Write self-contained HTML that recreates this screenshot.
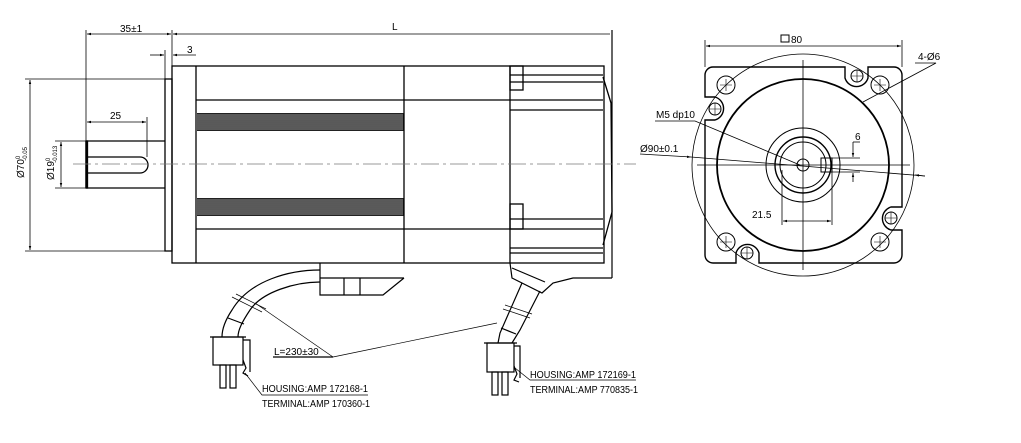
<!DOCTYPE html>
<html><head><meta charset="utf-8"><style>
html,body{margin:0;padding:0;background:#fff;}
svg{display:block;}
text{font-family:"Liberation Sans",sans-serif;font-size:10px;fill:#000;}
</style></head><body>
<svg width="1021" height="443" viewBox="0 0 1021 443" xmlns="http://www.w3.org/2000/svg">
<defs>
<marker id="a" viewBox="0 0 10 10" refX="10" refY="5" markerWidth="7" markerHeight="5" orient="auto-start-reverse"><path d="M0,2 L10,5 L0,8 z" fill="#000"/></marker>
</defs>
<g stroke="#000" fill="none" stroke-width="0.8">
<line x1="86" y1="30" x2="86" y2="188"/>
<line x1="172" y1="30" x2="172" y2="66"/>
<line x1="612" y1="30" x2="612" y2="278" stroke-width="1.2"/>
<line x1="87" y1="34" x2="171" y2="34" marker-start="url(#a)" marker-end="url(#a)"/>
<line x1="173" y1="34" x2="610" y2="34" marker-start="url(#a)"/>
<line x1="165" y1="50" x2="165" y2="79"/>
<line x1="150" y1="55" x2="164" y2="55" marker-end="url(#a)"/>
<line x1="196" y1="55" x2="173" y2="55" marker-end="url(#a)"/>
<line x1="25" y1="79" x2="165" y2="79"/>
<line x1="25" y1="251" x2="165" y2="251"/>
<line x1="30" y1="80" x2="30" y2="250" marker-start="url(#a)" marker-end="url(#a)"/>
<line x1="55" y1="141" x2="86" y2="141"/>
<line x1="55" y1="188" x2="86" y2="188"/>
<line x1="61" y1="142" x2="61" y2="187" marker-start="url(#a)" marker-end="url(#a)"/>
<line x1="147" y1="117" x2="147" y2="157"/>
<line x1="87" y1="122" x2="146" y2="122" marker-start="url(#a)" marker-end="url(#a)"/>
</g>
<rect x="197" y="113" width="207" height="18" fill="#222"/>
<rect x="197" y="198" width="207" height="18" fill="#222"/>
<g stroke="#fff" stroke-width="0.5">
<line x1="197" y1="115" x2="403" y2="115"/><line x1="197" y1="117" x2="403" y2="117"/><line x1="197" y1="119" x2="403" y2="119"/><line x1="197" y1="121" x2="403" y2="121"/><line x1="197" y1="123" x2="403" y2="123"/><line x1="197" y1="125" x2="403" y2="125"/><line x1="197" y1="127" x2="403" y2="127"/><line x1="197" y1="129" x2="403" y2="129"/>
<line x1="197" y1="200" x2="403" y2="200"/><line x1="197" y1="202" x2="403" y2="202"/><line x1="197" y1="204" x2="403" y2="204"/><line x1="197" y1="206" x2="403" y2="206"/><line x1="197" y1="208" x2="403" y2="208"/><line x1="197" y1="210" x2="403" y2="210"/><line x1="197" y1="212" x2="403" y2="212"/><line x1="197" y1="214" x2="403" y2="214"/>
</g>
<g stroke="#000" fill="none" stroke-width="1.3">
<path d="M86,141 H165 M86,188 H165 M86,141 V188"/>
<path d="M88,157 H140 A8,8 0 0 1 140,173 H88"/>
<rect x="86" y="141" width="1.5" height="47" fill="#000"/>
<rect x="165" y="79" width="7" height="172"/>
<rect x="172" y="66" width="432" height="197"/>
<line x1="196" y1="66" x2="196" y2="263"/>
<line x1="404" y1="66" x2="404" y2="263"/>
<line x1="510" y1="66" x2="510" y2="263"/>
<line x1="196" y1="100" x2="603" y2="100"/>
<line x1="196" y1="229" x2="603" y2="229"/>
<line x1="510" y1="110" x2="603" y2="110"/>
<line x1="510" y1="219" x2="603" y2="219"/>
<line x1="510" y1="75" x2="603" y2="75"/>
<line x1="510" y1="82" x2="603" y2="82"/>
<line x1="510" y1="248" x2="603" y2="248"/>
<line x1="510" y1="253" x2="603" y2="253"/>
<rect x="510" y="66" width="13" height="24"/>
<rect x="510" y="204" width="13" height="25"/>
<path d="M603,77 L611,103 L612,212 L603,245"/>
</g>
<line x1="73" y1="164" x2="636" y2="164" stroke="#777" stroke-width="0.8" stroke-dasharray="18,4,3,4"/>
<g stroke="#000" fill="none" stroke-width="1.2">
<path d="M320,263 V295 H383 L404,278 M320,278 H404 M344,278 V295 M360,278 V295"/>
<path d="M320,270 C290,270 250,280 232,310 C224,322 222,330 222,337"/>
<path d="M320,282 C295,282 262,292 250,310 C242,322 238,330 238,337"/>
<line x1="228" y1="318" x2="244" y2="324"/>
<rect x="213" y="337" width="30" height="28"/>
<path d="M210,337 H246"/>
<rect x="220" y="365" width="6" height="23"/><rect x="230" y="365" width="6" height="23"/>
<path d="M243,340 H250 V372 M243,360 L246,368 L243,373 L248,376"/>
<path d="M510,263 L512,278 L542,293 L553,283 L573,278 H612"/>
<line x1="512" y1="268" x2="545" y2="282"/>
<path d="M522,283 L500,333 L498,343"/>
<path d="M540,291 L520,330 L512,343"/>
<line x1="501" y1="328" x2="516" y2="334"/>
<rect x="487" y="343" width="27" height="29"/>
<path d="M484,343 H517"/>
<rect x="492" y="372" width="6" height="23"/><rect x="502" y="372" width="6" height="23"/>
<path d="M514,346 H520 V378 M514,366 L517,374 L514,380 L519,382"/>
</g>
<g stroke="#000" fill="none" stroke-width="0.7">
<line x1="232" y1="297" x2="262" y2="312"/><line x1="236" y1="294" x2="266" y2="309"/>
<line x1="503" y1="309" x2="530" y2="318"/><line x1="505" y1="305" x2="532" y2="314"/>
<line x1="273" y1="357" x2="333" y2="357" stroke-width="1.2"/>
<line x1="333" y1="357" x2="255" y2="303"/>
<line x1="333" y1="357" x2="497" y2="323"/>
<path d="M245,373 L262,395 H368"/>
<path d="M515,368 L530,380 H636"/>
</g>
<text x="120" y="32">35±1</text>
<text x="392" y="30" font-family="Liberation Serif" font-size="14">L</text>
<text x="187" y="53">3</text>
<text x="110" y="119">25</text>
<text transform="translate(24,178) rotate(-90)" font-size="9">Ø70<tspan dy="-4" font-size="6">0</tspan><tspan dx="-5" dy="7" font-size="6">-0.05</tspan></text>
<text transform="translate(54,180) rotate(-90)" font-size="9">Ø19<tspan dy="-4" font-size="6">0</tspan><tspan dx="-5" dy="7" font-size="6">-0.013</tspan></text>
<text x="274" y="355">L=230±30</text>
<text x="262" y="392" textLength="106" lengthAdjust="spacingAndGlyphs">HOUSING:AMP 172168-1</text>
<text x="262" y="407" textLength="108" lengthAdjust="spacingAndGlyphs">TERMINAL:AMP 170360-1</text>
<text x="530" y="378" textLength="106" lengthAdjust="spacingAndGlyphs">HOUSING:AMP 172169-1</text>
<text x="530" y="393" textLength="108" lengthAdjust="spacingAndGlyphs">TERMINAL:AMP 770835-1</text>
<g stroke="#000" fill="none" stroke-width="0.8">
<line x1="705" y1="40" x2="705" y2="67"/><line x1="902" y1="40" x2="902" y2="67"/>
<line x1="706" y1="46" x2="901" y2="46" marker-start="url(#a)" marker-end="url(#a)"/>
<circle cx="803" cy="165" r="111"/>
<line x1="803" y1="60" x2="803" y2="270"/>
<line x1="697" y1="165" x2="910" y2="165"/>
<line x1="640" y1="154" x2="691" y2="157" marker-end="url(#a)"/>
<line x1="691" y1="157" x2="925" y2="176"/>
<line x1="925" y1="176" x2="915" y2="175" marker-end="url(#a)"/>
<path d="M655,121 H695 L800,165"/>
<path d="M915,63 H936 L863,102"/>
<line x1="782" y1="170" x2="782" y2="225"/><line x1="832" y1="172" x2="832" y2="225"/>
<line x1="783" y1="221" x2="831" y2="221" marker-start="url(#a)" marker-end="url(#a)"/>
<path d="M853,142 H860"/>
<line x1="853" y1="142" x2="853" y2="157" marker-end="url(#a)"/>
<line x1="853" y1="182" x2="853" y2="173" marker-end="url(#a)"/>
<line x1="832" y1="158" x2="860" y2="158"/><line x1="832" y1="172" x2="860" y2="172"/>
</g>
<g stroke="#000" fill="none" stroke-width="1.4">
<path d="M713,67 H845 V78 A12,12 0 0 0 868,78 V67 H894 A8,8 0 0 1 902,75 V207 H891 A12,12 0 0 0 891,230 H902 V255 A8,8 0 0 1 894,263 H759 V253 A12,12 0 0 0 736,253 V263 H713 A8,8 0 0 1 705,255 V120 H715 A12,12 0 0 0 715,97 H705 V75 A8,8 0 0 1 713,67 Z"/>
<circle cx="803" cy="165" r="86" stroke-width="1.8"/>
<circle cx="803" cy="165" r="37" stroke-width="1"/>
<circle cx="803" cy="165" r="28"/>
<circle cx="803" cy="165" r="23" stroke-width="1"/>
<circle cx="803" cy="165" r="6" stroke-width="1"/>
<rect x="821" y="158" width="11" height="14" stroke-width="1"/>
</g>
<g stroke="#000" fill="none" stroke-width="1">
<circle cx="726" cy="85" r="9"/><circle cx="880" cy="85" r="9"/><circle cx="726" cy="242" r="9"/><circle cx="880" cy="242" r="9"/>
<circle cx="857" cy="76" r="6"/><circle cx="715" cy="109" r="6"/><circle cx="891" cy="218" r="6"/><circle cx="747" cy="253" r="6"/>
<path d="M720,85 H732 M726,79 V91 M874,85 H886 M880,79 V91 M720,242 H732 M726,236 V248 M874,242 H886 M880,236 V248 M851,76 H863 M857,70 V82 M709,109 H721 M715,103 V115 M885,218 H897 M891,212 V224 M741,253 H753 M747,247 V259" stroke-width="0.6"/>
</g>
<text x="791" y="43">80</text>
<rect x="781" y="35" width="8" height="7" fill="none" stroke="#000" stroke-width="1"/>
<text x="918" y="60">4-Ø6</text>
<text x="656" y="118">M5 dp10</text>
<text x="640" y="152">Ø90±0.1</text>
<text x="855" y="140">6</text>
<text x="752" y="218">21.5</text>
</svg>
</body></html>
